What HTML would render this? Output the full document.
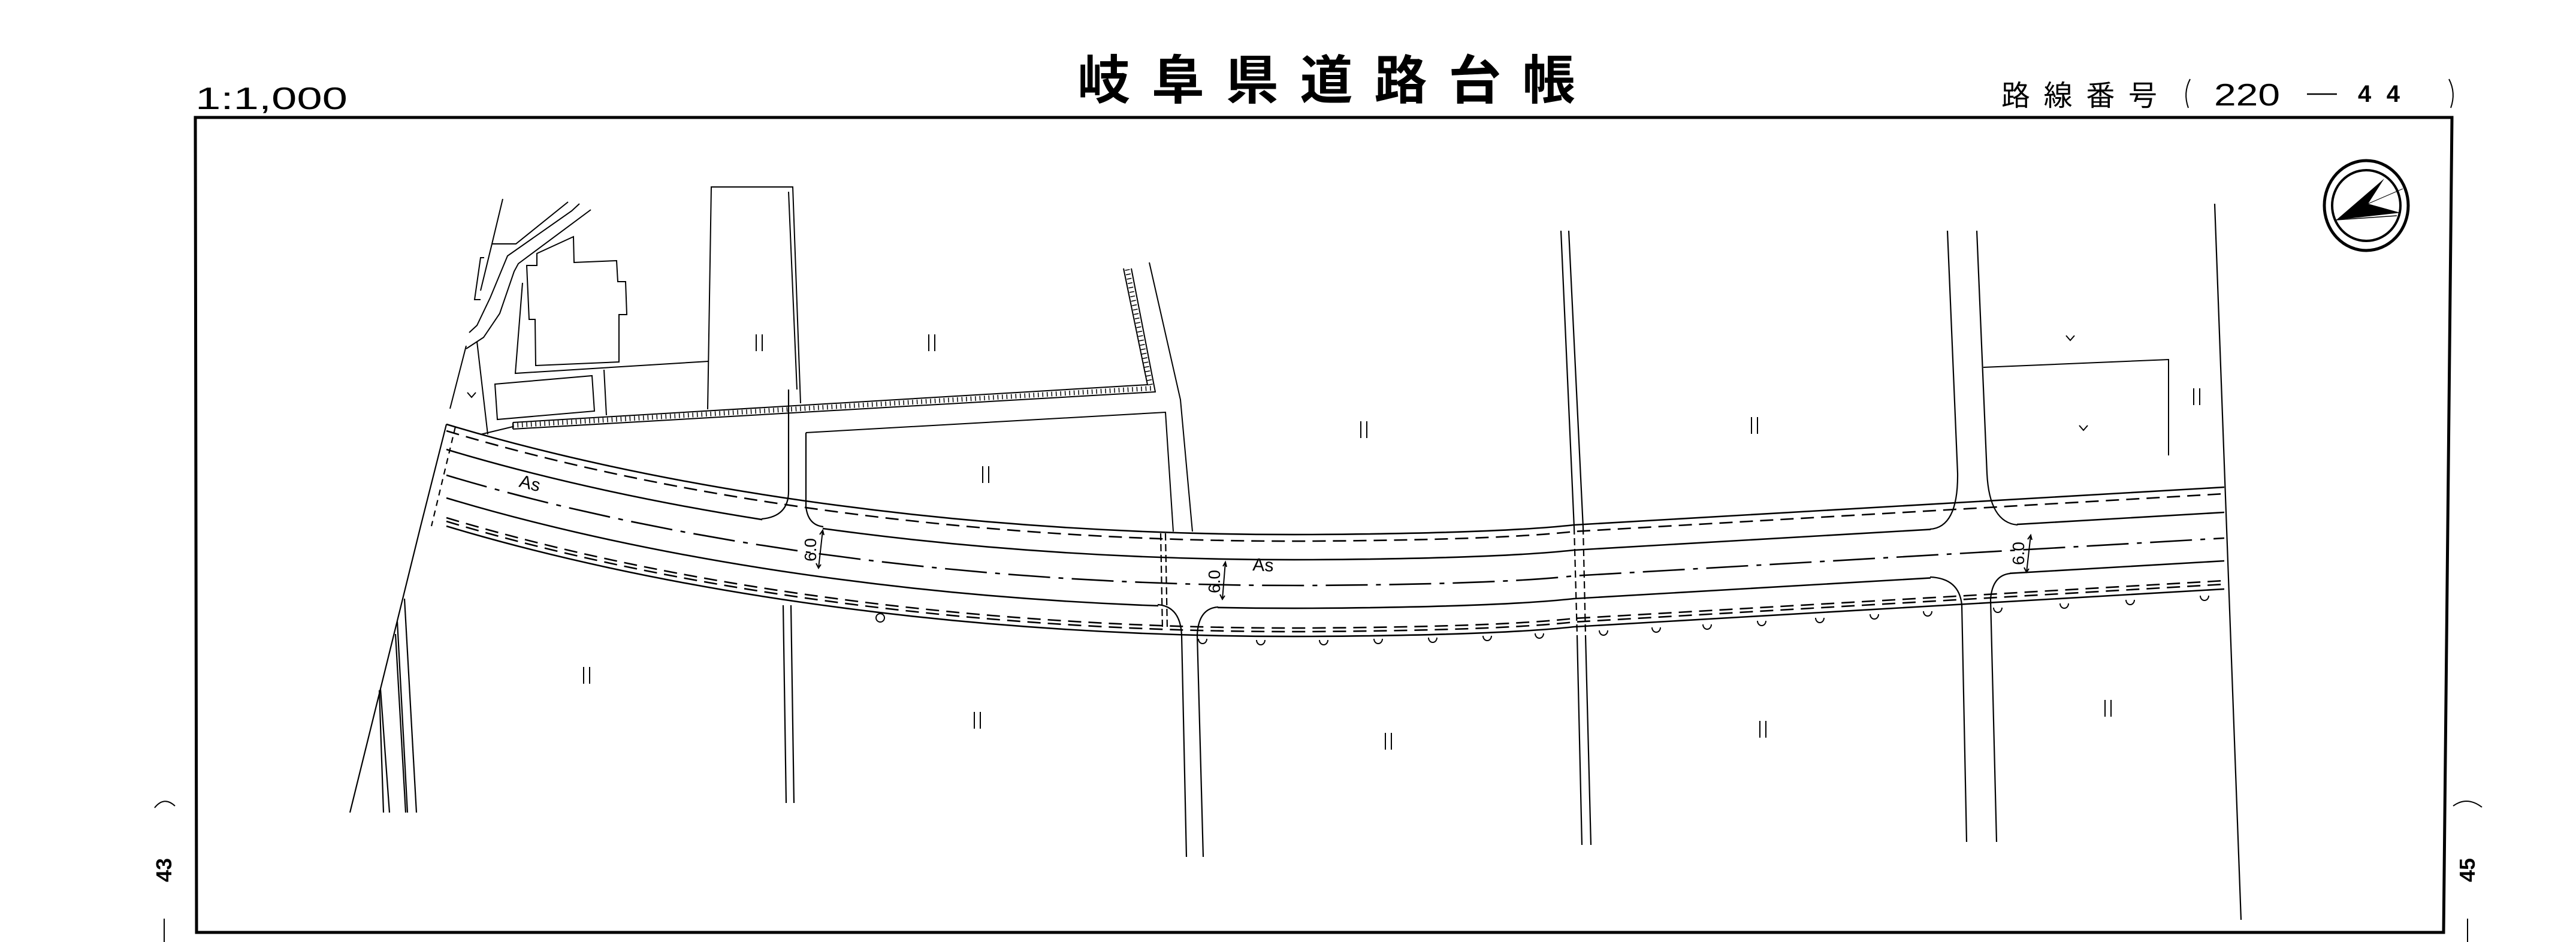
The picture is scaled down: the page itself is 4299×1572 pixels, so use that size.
<!DOCTYPE html>
<html><head><meta charset="utf-8"><style>
html,body{margin:0;padding:0;background:#fff}
svg{display:block}
</style></head><body>
<svg width="4299" height="1572" viewBox="0 0 4299 1572" xmlns="http://www.w3.org/2000/svg">
<defs>
<path id="r" d="M745,708 C1050,800 1550,895 2190,892 Q2500,890 2627,876 L3712,813"/>
</defs>
<rect width="4299" height="1572" fill="#fff"/>

<!-- header texts -->
<text x="326" y="182" font-family="Liberation Sans, sans-serif" font-size="52" textLength="254" lengthAdjust="spacingAndGlyphs" fill="#000">1:1,000</text>
<text x="1798" y="165" font-family="Liberation Sans, Noto Sans CJK JP, sans-serif" font-weight="bold" font-size="88" textLength="831" lengthAdjust="spacing" fill="#000">岐阜県道路台帳</text>
<text x="3340" y="176" font-family="Liberation Sans, Noto Sans CJK JP, sans-serif" font-size="48" textLength="260" lengthAdjust="spacing" fill="#000">路線番号</text>
<path d="M3655,132 Q3643,155 3652,180" fill="none" stroke="#000" stroke-width="2"/>
<text x="3695" y="176" font-family="Liberation Sans, sans-serif" font-size="52" textLength="110" lengthAdjust="spacingAndGlyphs" fill="#000">220</text>
<line x1="3850" y1="157" x2="3900" y2="157" stroke="#000" stroke-width="2.5"/>
<text x="3935" y="170" font-family="Liberation Sans, sans-serif" font-weight="bold" font-size="40" textLength="70" lengthAdjust="spacing" fill="#000">44</text>
<path d="M4087,132 Q4099,155 4090,180" fill="none" stroke="#000" stroke-width="2"/>

<!-- frame -->
<polygon points="326,196 4092,196 4078,1556 328,1556" fill="none" stroke="#000" stroke-width="5"/>

<!-- side labels -->
<path d="M258,1348 Q274,1328 292,1345" fill="none" stroke="#000" stroke-width="2"/>
<text transform="translate(286,1452) rotate(-90)" text-anchor="middle" font-family="Liberation Sans, sans-serif" font-weight="bold" font-size="36" fill="#000">43</text>
<line x1="274" y1="1533" x2="274" y2="1572" stroke="#000" stroke-width="2"/>
<path d="M4094,1345 Q4117,1328 4142,1347" fill="none" stroke="#000" stroke-width="2"/>
<text transform="translate(4130,1452) rotate(-90)" text-anchor="middle" font-family="Liberation Sans, sans-serif" font-weight="bold" font-size="36" fill="#000">45</text>
<line x1="4118" y1="1533" x2="4118" y2="1572" stroke="#000" stroke-width="2"/>

<!-- compass -->
<ellipse cx="3949" cy="343" rx="70" ry="75" fill="none" stroke="#000" stroke-width="5"/>
<ellipse cx="3949" cy="343" rx="57" ry="59" fill="none" stroke="#000" stroke-width="4"/>
<polygon points="3899,367 3979,298 3952,340 4006,355" fill="#000"/>
<line x1="3899" y1="367" x2="4000" y2="360" stroke="#000" stroke-width="1.5"/>
<line x1="3952" y1="340" x2="4010" y2="315" stroke="#000" stroke-width="1"/>

<g fill="none" stroke="#000" stroke-width="2">
<!-- top-left small road & building -->
<polyline points="839,332 821,407 802,485"/>
<polyline points="821,407 861,407 948,337"/>
<polyline points="967,340 954,352 847,427 818,497 796,543 783,555"/>
<polyline points="986,350 865,440 858,453 834,523 807,563 778,582"/>
<polyline points="778,577 751,682"/>
<polyline points="796,570 814,725"/>
<polyline points="808,430 802,430 792,500 802,500"/>
<polygon points="879,443 896,443 896,423 957,395 958,438 1029,435 1031,470 1044,470 1046,525 1033,525 1033,604 894,610 893,533 883,533"/>
<polyline points="872,472 860,623 1182,603"/>
<polygon points="826,641 988,627 992,686 830,700"/>
<line x1="1008" y1="617" x2="1012" y2="693"/>
<polyline points="1181,683 1187,312 1323,312 1336,673"/>
<!-- hatched wall -->
<polyline points="856,705 1915,642 1875,448"/>
<polyline points="856,716 1928,654 1888,448"/>
<polyline points="856,710 1921,648 1881,448" stroke-width="8" stroke-dasharray="1.5 6"/>
<line x1="856" y1="705" x2="856" y2="716"/>
<line x1="802" y1="725" x2="856" y2="712"/>
<!-- parcel right of side road A -->
<polyline points="1345,722 1945,688 1958,887"/>
<polyline points="1918,438 1970,667 1990,887"/>
<polyline points="1330,650 1316,320"/>
<!-- right parcel -->
<polyline points="3310,613 3619,600 3619,760"/>
</g>

<!-- road -->
<g fill="none" stroke="#000" stroke-width="2.6">
<use href="#r"/>
<use href="#r" transform="translate(0,11)" stroke-dasharray="22 12"/>
<use href="#r" transform="translate(0,42)"/>
<use href="#r" transform="translate(0,85)" stroke-dasharray="70 14 8 14"/>
<use href="#r" transform="translate(0,123)"/>
<use href="#r" transform="translate(0,156)" stroke-dasharray="22 12"/>
<use href="#r" transform="translate(0,162)" stroke-dasharray="22 12"/>
<use href="#r" transform="translate(0,170)"/>
</g>
<!-- gaps -->
<g fill="#fff">
<rect x="1272" y="856" width="101" height="30"/>
<rect x="3222" y="866" width="144" height="24"/>
<rect x="1933" y="996" width="99" height="26"/>
<rect x="3222" y="946" width="132" height="26"/>
</g>
<g fill="none" stroke="#000" stroke-width="2.2">
<!-- left end -->
<polyline points="745,708 702,878 584,1356"/>
<line x1="760" y1="712" x2="720" y2="878" stroke-dasharray="10 8"/>
<line x1="675" y1="999" x2="695" y2="1356"/>
<line x1="663" y1="1037" x2="680" y2="1356"/>
<line x1="660" y1="1058" x2="677" y2="1356"/>
<line x1="635" y1="1150" x2="650" y2="1356"/>
<line x1="633" y1="1152" x2="640" y2="1356"/>
<!-- side road A -->
<path d="M1316,650 L1316,820 Q1316,862 1271,866"/>
<path d="M1345,722 L1345,845 Q1348,876 1374,879"/>
<line x1="1307" y1="1010" x2="1312" y2="1340"/>
<line x1="1320" y1="1010" x2="1325" y2="1340"/>
<!-- side road B -->
<path d="M1932,1009 Q1970,1012 1972,1060 L1980,1430"/>
<path d="M2033,1013 Q2000,1015 1998,1060 L2008,1430"/>
<line x1="1937" y1="890" x2="1940" y2="1050" stroke-dasharray="12 6"/>
<line x1="1945" y1="890" x2="1948" y2="1050" stroke-dasharray="12 6"/>
<!-- C -->
<line x1="2605" y1="385" x2="2627" y2="880"/>
<line x1="2618" y1="385" x2="2642" y2="880"/>
<line x1="2627" y1="880" x2="2632" y2="1060" stroke-dasharray="12 6"/>
<line x1="2642" y1="880" x2="2646" y2="1060" stroke-dasharray="12 6"/>
<line x1="2632" y1="1060" x2="2640" y2="1410"/>
<line x1="2646" y1="1060" x2="2655" y2="1410"/>
<!-- D -->
<path d="M3250,385 L3267,790 Q3268,880 3221,883"/>
<path d="M3299,385 L3316,790 Q3320,872 3367,876"/>
<path d="M3221,963 Q3270,965 3274,1010 L3282,1405"/>
<path d="M3355,957 Q3325,960 3322,1000 L3332,1405"/>
<!-- E -->
<line x1="3696" y1="340" x2="3740" y2="1535"/>
</g>
<!-- markers -->
<g fill="none" stroke="#000" stroke-width="2">
<path d="M2000,1066 a7,8 0 0 0 14,0"/><path d="M2097,1068 a7,8 0 0 0 14,0"/><path d="M2202,1068 a7,8 0 0 0 14,0"/><path d="M2293,1066 a7,8 0 0 0 14,0"/><path d="M2384,1064 a7,8 0 0 0 14,0"/><path d="M2475,1061 a7,8 0 0 0 14,0"/><path d="M2562,1057 a7,8 0 0 0 14,0"/><path d="M2669,1052 a7,8 0 0 0 14,0"/><path d="M2757,1047 a7,8 0 0 0 14,0"/><path d="M2842,1042 a7,8 0 0 0 14,0"/><path d="M2933,1036 a7,8 0 0 0 14,0"/><path d="M3030,1031 a7,8 0 0 0 14,0"/><path d="M3121,1025 a7,8 0 0 0 14,0"/><path d="M3210,1020 a7,8 0 0 0 14,0"/><path d="M3327,1014 a7,8 0 0 0 14,0"/><path d="M3438,1007 a7,8 0 0 0 14,0"/><path d="M3548,1001 a7,8 0 0 0 14,0"/><path d="M3672,994 a7,8 0 0 0 14,0"/>
<circle cx="1469" cy="1031" r="7"/>
<!-- field marks -->
<path d="M1262,558v28M1272,558v28M1550,558v28M1560,558v28M1640,778v28M1650,778v28M2271,703v28M2281,703v28M2923,696v28M2933,696v28M3661,648v28M3671,648v28M974,1113v28M984,1113v28M1626,1188v28M1636,1188v28M2312,1223v28M2322,1223v28M2937,1203v28M2947,1203v28M3513,1168v28M3523,1168v28"/>
<path d="M3448,560l7,8l7,-8M3470,710l7,8l7,-8M780,655l7,8l7,-8"/>
<!-- 6.0 arrows -->
<path d="M1373,885 L1366,948 M1368,892 l5,-7 l2,8 M1362,940 l4,8 l4,-6"/>
<path d="M2045,938 L2040,1000 M2041,945 l4,-7 l2,8 M2036,992 l4,8 l4,-6"/>
<path d="M3389,893 L3382,955 M3384,900 l5,-7 l2,8 M3378,947 l4,8 l4,-6"/>
</g>
<g font-family="Liberation Sans, sans-serif" fill="#000">
<text transform="translate(865,812) rotate(14)" font-size="30">As</text>
<text transform="translate(2090,952) rotate(3)" font-size="30">As</text>
<text transform="translate(1362,937) rotate(-90)" font-size="28">6.0</text>
<text transform="translate(2036,990) rotate(-90)" font-size="28">6.0</text>
<text transform="translate(3378,943) rotate(-90)" font-size="28">6.0</text>
</g>
</svg>
</body></html>
